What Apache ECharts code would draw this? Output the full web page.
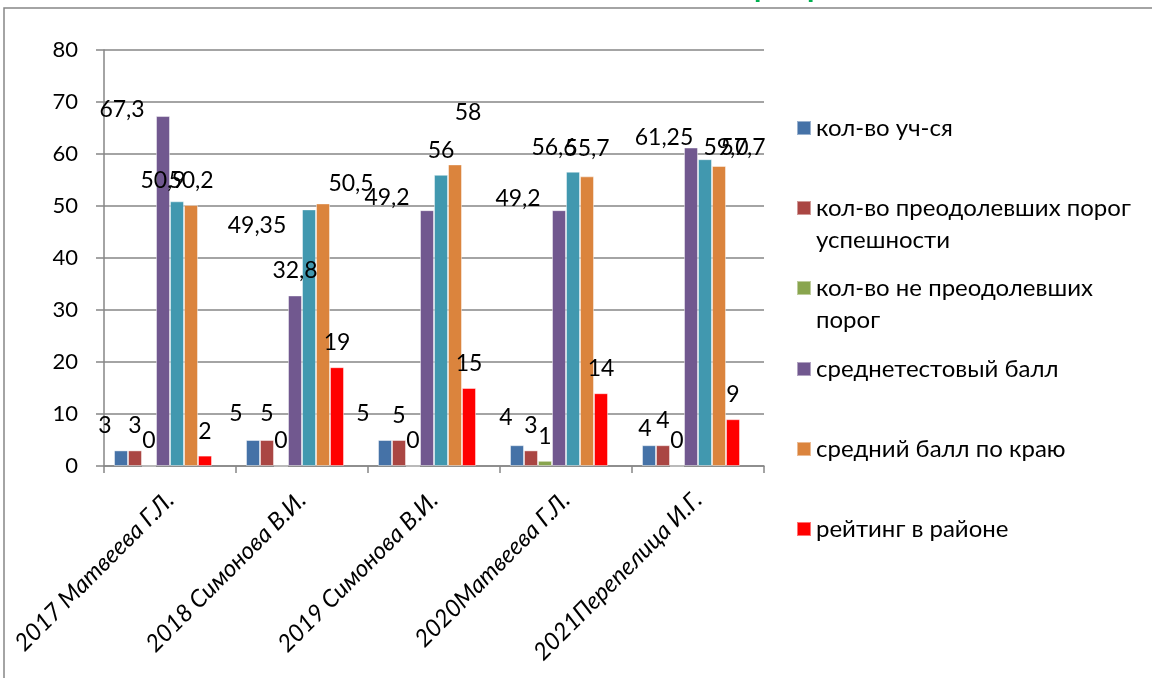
<!DOCTYPE html>
<html>
<head>
<meta charset="utf-8">
<script src="https://cdn.jsdelivr.net/npm/echarts@6/dist/echarts.min.js"></script>
<style>
html,body{margin:0;padding:0;background:#fff;}
#chart{width:1152px;height:678px;}
</style>
</head>
<body>
<div id="chart"></div>
<script>
// ---- data ----
const categories = ['2017 Матвеева Г.Л.', '2018 Симонова В.И.', '2019 Симонова В.И.', '2020Матвеева Г.Л.', '2021Перепелица И.Г.'];
const seriesNames = ['кол-во уч-ся', 'кол-во преодолевших порог успешности', 'кол-во не преодолевших порог', 'среднетестовый балл', 'средний балл', 'средний балл по краю', 'рейтинг в районе'];
const students = [3, 5, 5, 4, 4];
const passed = [3, 5, 5, 3, 4];
const failed = [0, 0, 0, 1, 0];
const avgTest = [67.3, 32.8, 49.2, 49.2, 61.25];
const avgScore = [50.9, 49.35, 56, 56.6, 59.0];
const avgRegion = [50.2, 50.5, 58, 55.7, 57.7];
const rating = [2, 19, 15, 14, 9];
const yTicks = { min: 0, max: 80, interval: 10 };

// ---- styling ----
const colors = ['#4572A7', '#AA4643', '#89A54E', '#71588F', '#4198AF', '#DB843D', '#FF0000'];
const avgScoreDecimals = [1, 2, 0, 1, 1];
// label nudges (dx, dy) per series / category, imitating manual label placement
const nudges = [
  [[-16, 0], [-17, -2], [-22, -2], [-11, -3], [-4, 8]],
  [[0, 0], [0, -2], [0, 0], [0, 0], [0, 0]],
  [[0, 0], [0, 0], [0, 0], [0, 0], [0, 0]],
  [[-41, 18], [0, 0], [-40, 12], [-41, 13], [-27, 15]],
  [[-14, 4], [-52, 41], [0, 0], [-19, 0], [21, 13]],
  [[0, 0], [28, 5], [13, -27], [0, -3], [24, 6]],
  [[0, 0], [0, 0], [0, 0], [0, 0], [0, 0]]
];
const FONT = 'Lato, "Open Sans", sans-serif';
const GRAY = '#868686';

const valueSets = [students, passed, failed, avgTest, avgScore, avgRegion, rating];

function fmt(si, v, i) {
  if (si === 4) return v.toFixed(avgScoreDecimals[i]).replace('.', ',');
  return String(v).replace('.', ',');
}

const series = valueSets.map((vals, si) => ({
  name: seriesNames[si],
  type: 'bar',
  barWidth: 14,
  barGap: '0%',
  itemStyle: { color: colors[si], borderColor: 'rgba(255,255,255,0.45)', borderWidth: 1 },
  data: vals.map((v, i) => ({
    value: v,
    label: { offset: nudges[si][i] }
  })),
  label: {
    show: true,
    position: 'top',
    distance: 13,
    color: '#000',
    fontSize: 23,
    fontFamily: FONT,
    formatter: p => fmt(si, p.value, p.dataIndex)
  },
  z: 2
}));
// empty slot series (the original chart reserves one more bar slot per group)
series.push({ name: '', type: 'bar', barWidth: 14, barGap: '0%', data: [] });

const wrapped = {
  'кол-во преодолевших порог успешности': '\nкол-во преодолевших порог\nуспешности',
  'кол-во не преодолевших порог': '\nкол-во не преодолевших\nпорог'
};
const legendNames = [0, 1, 2, 3, 5, 6].map(i => seriesNames[i]);
const legendCenters = [128, 208, 288, 369, 449, 529];
const legends = legendNames.map((n, k) => {
  const two = !!wrapped[n];
  return {
    data: [n],
    left: 796,
    top: two ? legendCenters[k] - 48 : legendCenters[k] - 16,
    padding: 0,
    icon: 'rect',
    itemWidth: 14,
    itemHeight: 14,
    selectedMode: false,
    formatter: name => wrapped[name] || name,
    textStyle: { fontSize: 24, fontFamily: FONT, color: '#000', lineHeight: 32 }
  };
});

const chart = echarts.init(document.getElementById('chart'), null, { renderer: 'canvas' });
chart.setOption({
  animation: false,
  backgroundColor: '#fff',
  grid: { left: 104, right: 388, top: 50, bottom: 212, containLabel: false },
  legend: legends,
  xAxis: {
    type: 'category',
    data: categories,
    axisLine: { lineStyle: { color: GRAY, width: 1.5 } },
    axisTick: { show: true, length: 7, lineStyle: { color: GRAY, width: 1.5 } },
    axisLabel: {
      rotate: 45, margin: 30, color: '#000', fontSize: 24, fontStyle: 'italic', fontFamily: FONT,
      interval: 0
    }
  },
  yAxis: {
    type: 'value',
    min: yTicks.min, max: yTicks.max, interval: yTicks.interval,
    axisLine: { show: true, lineStyle: { color: GRAY, width: 1.5 } },
    axisTick: { show: true, length: 8, lineStyle: { color: GRAY, width: 1.5 } },
    axisLabel: { margin: 26, color: '#000', fontSize: 22, fontFamily: FONT },
    splitLine: { show: true, lineStyle: { color: GRAY, width: 1.5 } }
  },
  series: series,
  graphic: [
    { type: 'rect', shape: { x: 4, y: 8, width: 1300, height: 800 }, style: { fill: 'none', stroke: GRAY, lineWidth: 1.5 }, z: -1, silent: true },
    { type: 'text', left: 754, top: -28, style: { text: 'р', fill: '#00B050', font: 'bold 30px ' + FONT }, z: 10, silent: true },
    { type: 'text', left: 807, top: -28, style: { text: 'р', fill: '#00B050', font: 'bold 30px ' + FONT }, z: 10, silent: true }
  ]
});
</script>
</body>
</html>
